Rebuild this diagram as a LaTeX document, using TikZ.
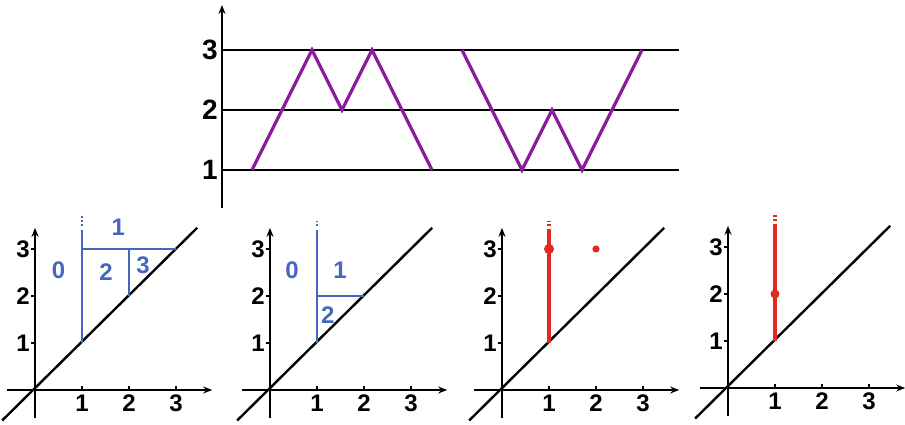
\documentclass[tikz,border=0pt]{standalone}
\usepackage{fontspec}
\setmainfont{Liberation Sans}
\usetikzlibrary{arrows.meta}
\definecolor{walkpurple}{HTML}{8C1C9E}
\definecolor{regionblue}{HTML}{4468C0}
\definecolor{barred}{HTML}{E02A20}
\tikzset{
  axis/.style={line width=2.8pt, -{Stealth[length=9pt,width=7pt]}},
  level/.style={line width=2pt},
  walk/.style={line width=3.2pt, walkpurple},
  diag/.style={line width=2.4pt},
  levellabel/.style={font=\fontsize{28}{28}\selectfont\bfseries, inner sep=0pt},
  ticklabel/.style={font=\fontsize{24}{24}\selectfont\bfseries, inner sep=0pt},
  region/.style={line width=2.6pt, regionblue},
  regiontop/.style={line width=2.6pt, regionblue, dash pattern=on 2pt off 2pt},
  regionlabel/.style={font=\fontsize{24}{24}\selectfont\bfseries, text=regionblue, inner sep=0pt},
  bar/.style={line width=3.2pt, barred},
  bartop/.style={line width=3.2pt, barred, dash pattern=on 2pt off 2pt},
  plotat/.style 2 args={xshift=#1pt, yshift=#2pt, x=47pt, y=47pt},
}
\begin{document}
\begin{tikzpicture}[x=1pt, y=1pt]
\useasboundingbox (0,0) rectangle (905,424);

% the two walks between levels 1 and 3
\begin{scope}[xshift=222pt, yshift=194pt, x=30pt, y=60pt]
  \draw[axis] (0,0.37) -- (0,3.75);
  \foreach \k in {1,2,3} {
    \draw[level] (0,\k) -- (15.23,\k);
    \node[levellabel, left=4pt] (lev\k) at (0,\k) {\k};
  }
  \draw[walk] (1,1) -- (3,3) -- (4,2) -- (5,3) -- (7,1);
  \draw[walk] (8,3) -- (10,1) -- (11,2) -- (12,1) -- (14,3);
\end{scope}

% the four diagrams: axes and diagonal
\foreach \ox/\oy/\p in {35/34/a, 270/34/b, 502/34/c, 728/36/d} {
  \begin{scope}[plotat={\ox}{\oy}]
    \draw[axis] (-0.6,0) -- (3.77,0);
    \draw[axis] (0,-0.6) -- (0,3.45);
    \draw[diag] (-0.7,-0.65) -- (3.45,3.45);
    \foreach \t in {1,2,3} {
      \draw[line width=1.6pt] (\t,0) -- (\t,0.08);
      \draw[line width=1.6pt] (0,\t) -- (-0.08,\t);
      \node[ticklabel, below=5pt] (\p x\t) at (\t,0) {\t};
      \node[ticklabel, left=5pt] (\p y\t) at (0,\t) {\t};
    }
  \end{scope}
}

% first diagram: regions 0 to 3
\begin{scope}[plotat={35}{34}]
  \draw[region] (1,1) -- (1,3.4);
  \draw[regiontop] (1,3.48) -- (1,3.7);
  \draw[region] (1,3) -- (3,3);
  \draw[region] (2,2) -- (2,3);
  \node[regionlabel] (ra0) at (0.5,2.55) {0};
  \node[regionlabel] (ra1) at (1.77,3.47) {1};
  \node[regionlabel] (ra2) at (1.51,2.5) {2};
  \node[regionlabel] (ra3) at (2.3,2.66) {3};
\end{scope}

% second diagram: regions 0 to 2
\begin{scope}[plotat={270}{34}]
  \draw[region] (1,1) -- (1,3.4);
  \draw[regiontop] (1,3.48) -- (1,3.6);
  \draw[region] (1,2) -- (2,2);
  \node[regionlabel] (rb0) at (0.47,2.55) {0};
  \node[regionlabel] (rb1) at (1.49,2.55) {1};
  \node[regionlabel] (rb2) at (1.23,1.6) {2};
\end{scope}

% third diagram: bar and two points
\begin{scope}[plotat={502}{34}]
  \draw[bar] (1,1) -- (1,3.42);
  \draw[bartop] (1,3.5) -- (1,3.6);
  \fill[barred] (1,3) circle (5pt);
  \fill[barred] (2,3) circle (3.6pt);
\end{scope}

% fourth diagram: bar and one point
\begin{scope}[plotat={728}{36}]
  \draw[bar] (1,1) -- (1,3.5);
  \draw[bartop] (1,3.55) -- (1,3.72);
  \fill[barred] (1,2) circle (4.5pt);
\end{scope}
\end{tikzpicture}
\end{document}
